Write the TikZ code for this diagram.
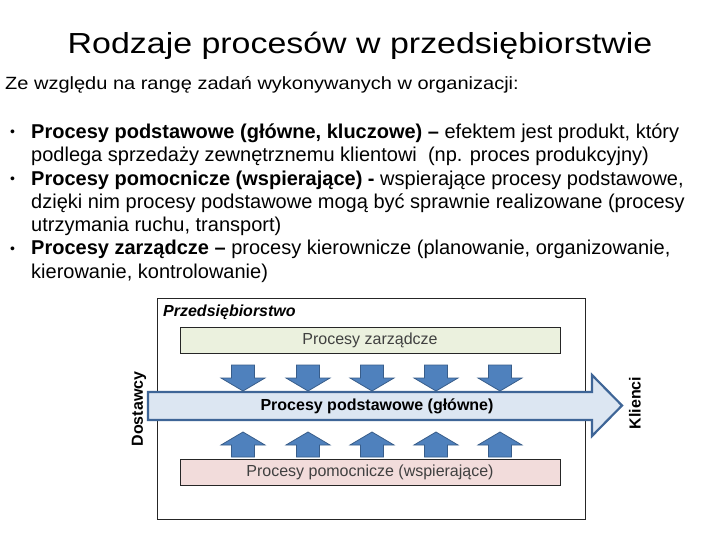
\documentclass[tikz,border=0pt]{standalone}
\usepackage{fontspec}
\setmainfont{Liberation Sans}
\newfontfamily\titlefont[FakeStretch=1.17]{Liberation Sans}
\newfontfamily\leadfont[FakeStretch=1.13]{Liberation Sans}
\usepackage{xcolor}
\usepackage{tikz}

\definecolor{mgmtfill}{HTML}{EBF1DE}
\definecolor{suppfill}{HTML}{F2DCDB}
\definecolor{corefill}{HTML}{DCE6F2}
\definecolor{coreline}{HTML}{3E6597}
\definecolor{flowfill}{HTML}{4F81BD}
\definecolor{flowline}{HTML}{385D8A}

\begin{document}
\begin{tikzpicture}[x=1pt, y=-1pt,
    procbox/.style={draw=black!85, line width=0.8pt, minimum width=380pt, minimum height=26pt,
      inner sep=0pt, text=black!75, font=\fontsize{16}{19}\selectfont},
    flowarrow/.style={fill=flowfill, draw=flowline, line width=0.8pt, line join=miter},
    sidelabel/.style={rotate=90, inner sep=0pt, font=\bfseries\fontsize{16}{19}\selectfont},
    itemtext/.style={anchor=base west, align=left, inner sep=0pt, font=\fontsize{20}{23.33}\selectfont},
    itemdot/.style={anchor=base, inner sep=0pt, font=\fontsize{14}{16}\selectfont}]
  \useasboundingbox[fill=white] (0,0) rectangle (720,540);
  % heading
  \node[anchor=base, inner sep=0pt, font=\titlefont\fontsize{29}{34}\selectfont] (title) at (360,54)
    {Rodzaje procesów w przedsiębiorstwie};
  \node[anchor=base west, inner sep=0pt, font=\leadfont\fontsize{17.7}{21}\selectfont] (lead) at (5,90)
    {Ze względu na rangę zadań wykonywanych w organizacji:};
  % bullet list (multi-line nodes sit on their last baseline)
  \node[itemdot] (dot1) at (12.5,136.5) {•};
  \node[itemtext] (item1) at (31,161.6)
    {\textbf{Procesy podstawowe (główne, kluczowe) –} efektem jest produkt, który\\
     podlega sprzedaży zewnętrznemu klientowi\ \ (np. proces produkcyjny)};
  \node[itemdot] (dot2) at (12.5,183.2) {•};
  \node[itemtext] (item2) at (31,231.7)
    {\textbf{Procesy pomocnicze (wspierające) -} wspierające procesy podstawowe,\\
     dzięki nim procesy podstawowe mogą być sprawnie realizowane (procesy\\
     utrzymania ruchu, transport)};
  \node[itemdot] (dot3) at (12.5,253.2) {•};
  \node[itemtext] (item3) at (31,278.3)
    {\textbf{Procesy zarządcze –} procesy kierownicze (planowanie, organizowanie,\\
     kierowanie, kontrolowanie)};
  % enterprise frame
  \node[draw=black!85, line width=0.8pt, minimum width=428pt, minimum height=221pt, inner sep=0pt,
    anchor=north west] (firm) at (156.7,298) {};
  \node[anchor=base west, inner sep=0pt, font=\bfseries\itshape\fontsize{16}{19}\selectfont] (firmname)
    at (163,316.7) {Przedsiębiorstwo};
  % process layers
  \node[procbox, fill=mgmtfill] (mgmt) at (370,340) {Procesy zarządcze};
  \node[procbox, fill=suppfill] (supp) at (370,472.5) {Procesy pomocnicze (wspierające)};
  % main flow
  \draw[fill=corefill, draw=coreline, line width=2.2pt, line join=miter]
    (148,392) -- (592,392) -- (592,375) -- (622,405.5) -- (592,436) -- (592,420) -- (148,420) -- cycle;
  \node[inner sep=0pt, font=\bfseries\fontsize{16}{19}\selectfont] (core) at (377,406)
    {Procesy podstawowe (główne)};
  % arrows from management and support
  \foreach \cx in {243,308,372,436,500} {
    \draw[flowarrow] (\cx-11.5,365) -- (\cx+11.5,365) -- (\cx+11.5,378) -- (\cx+22,378)
      -- (\cx,391) -- (\cx-22,378) -- (\cx-11.5,378) -- cycle;
    \draw[flowarrow] (\cx-11.5,457) -- (\cx+11.5,457) -- (\cx+11.5,445) -- (\cx+22,445)
      -- (\cx,432) -- (\cx-22,445) -- (\cx-11.5,445) -- cycle;
  }
  % outside parties
  \node[sidelabel] (suppliers) at (139,409) {Dostawcy};
  \node[sidelabel] (clients) at (635,403) {Klienci};
\end{tikzpicture}
\end{document}
